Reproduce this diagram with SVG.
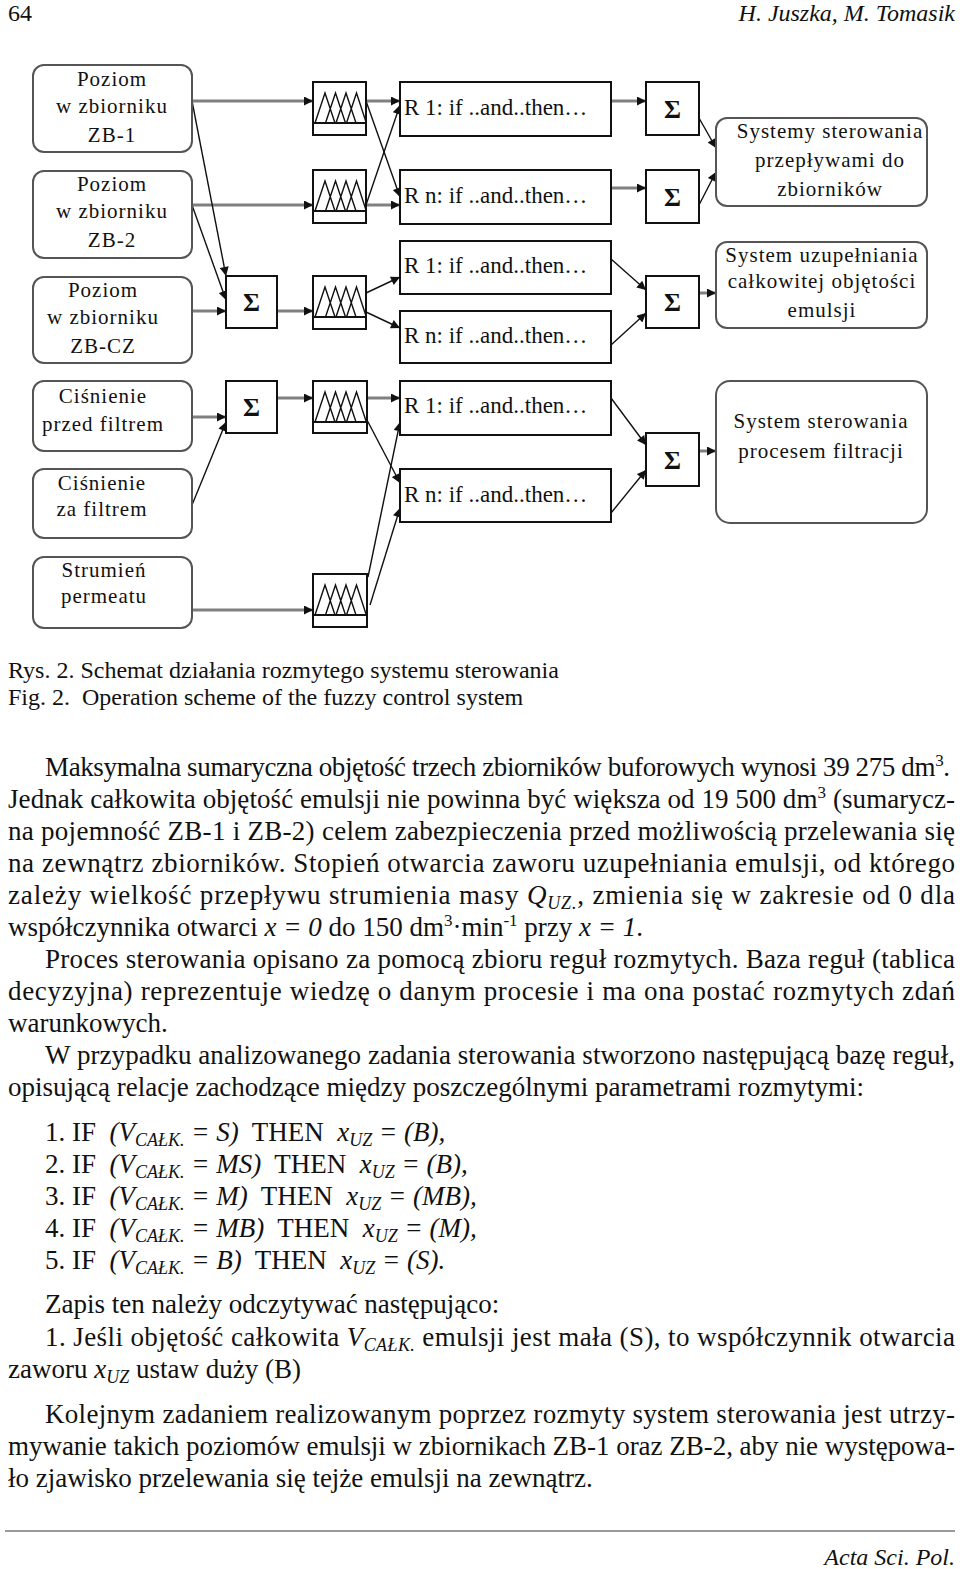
<svg xmlns="http://www.w3.org/2000/svg" xmlns:xlink="http://www.w3.org/1999/xlink" width="960" height="1569" viewBox="0 0 960 1569">
<style>
.rn{fill:#fff;stroke:#555;stroke-width:2}
.bx{fill:#fff;stroke:#111;stroke-width:2}
.nt{font-family:"Liberation Serif",serif;font-size:21px;letter-spacing:1px;text-anchor:middle;fill:#111}
.rt{font-family:"Liberation Serif",serif;font-size:23px;fill:#111}
.sg{font-family:"Liberation Serif",serif;font-size:26px;font-weight:bold;text-anchor:middle;fill:#111}
.thk{stroke:#808080;stroke-width:3;fill:none;marker-end:url(#ah)}
.thn{stroke:#111;stroke-width:1.4;fill:none;marker-end:url(#ah)}
.tri{fill:none;stroke:#111;stroke-width:1.4}
.bd{font-family:"Liberation Serif",serif;font-size:27px;fill:#111}
.cap{font-family:"Liberation Serif",serif;font-size:24px;fill:#111}
.i{font-style:italic}
.sb{font-size:18px}
.sp{font-size:17px}
</style>
<defs>
<marker id="ah" viewBox="0 0 10 10" refX="10" refY="5" markerWidth="11" markerHeight="9" markerUnits="userSpaceOnUse" orient="auto">
<path d="M0,0 L10,5 L0,10 z" fill="#111"/>
</marker>
<g id="tri">
<path class="tri" d="M2,41 L12,11 L22,41 M12.5,41 L22.5,11 L32.5,41 M23,41 L33,11 L43,41 M33.5,41 L43.5,11 L53,40"/>
<line x1="0" y1="41" x2="53" y2="41" stroke="#111" stroke-width="2"/>
</g>
</defs>
<rect width="960" height="1569" fill="#fff"/>

<!-- header -->
<text class="cap" x="8" y="21" font-size="25">64</text>
<text class="cap i" x="955" y="21" text-anchor="end" font-size="25">H. Juszka, M. Tomasik</text>

<!-- connectors -->
<g id="connectors">
<path class="thk" d="M192,101 H313"/>
<path class="thk" d="M192,205 H313"/>
<path class="thk" d="M192,311 H226"/>
<path class="thk" d="M277,311 H313"/>
<path class="thk" d="M366,101 H400"/>
<path class="thk" d="M366,205 H400"/>
<path class="thk" d="M611,101 H646"/>
<path class="thk" d="M611,188 H646"/>
<path class="thk" d="M699,293 H716"/>
<path class="thk" d="M192,417 H226"/>
<path class="thk" d="M277,398 H313"/>
<path class="thk" d="M192,610 H313"/>
<path class="thk" d="M367,398 H400"/>
<path class="thk" d="M699,451 H716"/>
<path class="thn" d="M192,101 L226,276"/>
<path class="thn" d="M192,205 L226,300"/>
<path class="thn" d="M366,101 L400,197"/>
<path class="thn" d="M366,205 L400,105"/>
<path class="thn" d="M366,293 L400,277"/>
<path class="thn" d="M366,312 L400,328"/>
<path class="thn" d="M611,259 L646,290"/>
<path class="thn" d="M611,345 L646,313"/>
<path class="thn" d="M699,118 L716,148"/>
<path class="thn" d="M699,205 L716,172"/>
<path class="thn" d="M192,505 L226,422"/>
<path class="thn" d="M367,420 L400,483"/>
<path class="thn" d="M368,577 L400,422"/>
<path class="thn" d="M370,605 L400,508"/>
<path class="thn" d="M611,398 L646,445"/>
<path class="thn" d="M611,513 L646,470"/>
</g>

<!-- input nodes -->
<g id="in-zb1"><rect class="rn" x="33" y="65" width="159" height="87" rx="11"/>
<text class="nt" x="112" y="86">Poziom</text><text class="nt" x="112" y="113">w zbiorniku</text><text class="nt" x="112" y="142">ZB-1</text></g>
<g id="in-zb2"><rect class="rn" x="33" y="171" width="159" height="87" rx="11"/>
<text class="nt" x="112" y="191">Poziom</text><text class="nt" x="112" y="218">w zbiorniku</text><text class="nt" x="112" y="247">ZB-2</text></g>
<g id="in-zbcz"><rect class="rn" x="33" y="277" width="159" height="86" rx="11"/>
<text class="nt" x="103" y="297">Poziom</text><text class="nt" x="103" y="324">w zbiorniku</text><text class="nt" x="103" y="353">ZB-CZ</text></g>
<g id="in-przed"><rect class="rn" x="33" y="381" width="159" height="70" rx="11"/>
<text class="nt" x="103" y="403">Ciśnienie</text><text class="nt" x="103" y="431">przed filtrem</text></g>
<g id="in-za"><rect class="rn" x="33" y="469" width="159" height="69" rx="11"/>
<text class="nt" x="102" y="490">Ciśnienie</text><text class="nt" x="102" y="516">za filtrem</text></g>
<g id="in-perm"><rect class="rn" x="33" y="557" width="159" height="71" rx="11"/>
<text class="nt" x="104" y="577">Strumień</text><text class="nt" x="104" y="603">permeatu</text></g>

<!-- left sum nodes -->
<g id="sum1"><rect class="bx" x="226" y="276" width="51" height="52"/><text class="sg" x="251.5" y="311">Σ</text></g>
<g id="sum2"><rect class="bx" x="226" y="381" width="51" height="52"/><text class="sg" x="251.5" y="416">Σ</text></g>

<!-- fuzzification nodes -->
<g id="fuzz1"><rect class="bx" x="313" y="82" width="53" height="53"/><use xlink:href="#tri" x="313" y="82"/></g>
<g id="fuzz2"><rect class="bx" x="313" y="170" width="53" height="53"/><use xlink:href="#tri" x="313" y="170"/></g>
<g id="fuzz3"><rect class="bx" x="313" y="276" width="53" height="53"/><use xlink:href="#tri" x="313" y="276"/></g>
<g id="fuzz4"><rect class="bx" x="313" y="381" width="54" height="52"/><use xlink:href="#tri" x="313" y="381"/></g>
<g id="fuzz5"><rect class="bx" x="313" y="574" width="54" height="53"/><use xlink:href="#tri" x="313" y="574"/></g>

<!-- rule nodes -->
<g id="rule1a"><rect class="bx" x="400" y="82" width="211" height="54"/><text class="rt" x="404" y="115">R 1: if ..and..then…</text></g>
<g id="rulena"><rect class="bx" x="400" y="170" width="211" height="54"/><text class="rt" x="404" y="203">R n: if ..and..then…</text></g>
<g id="rule1b"><rect class="bx" x="400" y="241" width="211" height="53"/><text class="rt" x="404" y="273">R 1: if ..and..then…</text></g>
<g id="rulenb"><rect class="bx" x="400" y="311" width="211" height="52"/><text class="rt" x="404" y="343">R n: if ..and..then…</text></g>
<g id="rule1c"><rect class="bx" x="400" y="381" width="211" height="54"/><text class="rt" x="404" y="413">R 1: if ..and..then…</text></g>
<g id="rulenc"><rect class="bx" x="400" y="469" width="211" height="53"/><text class="rt" x="404" y="502">R n: if ..and..then…</text></g>

<!-- right sum nodes -->
<g id="sumA"><rect class="bx" x="646" y="82" width="53" height="53"/><text class="sg" x="672.5" y="118">Σ</text></g>
<g id="sumB"><rect class="bx" x="646" y="170" width="53" height="53"/><text class="sg" x="672.5" y="206">Σ</text></g>
<g id="sumC"><rect class="bx" x="646" y="276" width="53" height="52"/><text class="sg" x="672.5" y="311">Σ</text></g>
<g id="sumD"><rect class="bx" x="646" y="433" width="53" height="53"/><text class="sg" x="672.5" y="469">Σ</text></g>

<!-- output nodes -->
<g id="out1"><rect class="rn" x="716" y="118" width="211" height="88" rx="11"/>
<text class="nt" x="830" y="138">Systemy sterowania</text><text class="nt" x="830" y="167">przepływami do</text><text class="nt" x="830" y="196">zbiorników</text></g>
<g id="out2"><rect class="rn" x="716" y="242" width="211" height="86" rx="11"/>
<text class="nt" x="822" y="262">System uzupełniania</text><text class="nt" x="822" y="288">całkowitej objętości</text><text class="nt" x="822" y="317">emulsji</text></g>
<g id="out3"><rect class="rn" x="716" y="381" width="211" height="142" rx="14"/>
<text class="nt" x="821" y="428">System sterowania</text><text class="nt" x="821" y="458">procesem filtracji</text></g>

<!-- caption -->
<text class="cap" x="8" y="678">Rys. 2. Schemat działania rozmytego systemu sterowania</text>
<text class="cap" x="8" y="705" xml:space="preserve">Fig. 2.  Operation scheme of the fuzzy control system</text>

<!-- body text -->
<text class="bd" x="45" y="776" textLength="905" lengthAdjust="spacing">Maksymalna sumaryczna objętość trzech zbiorników buforowych wynosi 39 275  dm<tspan class="sp" dy="-10">3</tspan><tspan dy="10">.</tspan></text>
<text class="bd" x="8" y="808" textLength="947" lengthAdjust="spacing">Jednak całkowita objętość emulsji nie powinna być większa od 19 500 dm<tspan class="sp" dy="-10">3</tspan><tspan dy="10"> (sumarycz-</tspan></text>
<text class="bd" x="8" y="840" textLength="947" lengthAdjust="spacing">na pojemność ZB-1 i ZB-2) celem zabezpieczenia przed możliwością przelewania się</text>
<text class="bd" x="8" y="872" textLength="947" lengthAdjust="spacing">na zewnątrz zbiorników. Stopień otwarcia zaworu uzupełniania emulsji, od którego</text>
<text class="bd" x="8" y="904" textLength="947" lengthAdjust="spacing">zależy wielkość przepływu strumienia masy <tspan class="i">Q</tspan><tspan class="i sb" dy="5">UZ.</tspan><tspan dy="-5">, zmienia się w zakresie od 0 dla</tspan></text>
<text class="bd" x="8" y="936">współczynnika otwarci <tspan class="i">x = 0</tspan> do 150 dm<tspan class="sp" dy="-10">3</tspan><tspan dy="10">·min</tspan><tspan class="sp" dy="-10">-1</tspan><tspan dy="10"> przy </tspan><tspan class="i">x = 1</tspan>.</text>
<text class="bd" x="45" y="968" textLength="910" lengthAdjust="spacing">Proces sterowania opisano za pomocą zbioru reguł rozmytych. Baza reguł (tablica</text>
<text class="bd" x="8" y="1000" textLength="947" lengthAdjust="spacing">decyzyjna) reprezentuje wiedzę o danym procesie i ma ona postać rozmytych zdań</text>
<text class="bd" x="8" y="1032">warunkowych.</text>
<text class="bd" x="45" y="1064" textLength="910" lengthAdjust="spacing">W przypadku analizowanego zadania sterowania stworzono następującą bazę reguł,</text>
<text class="bd" x="8" y="1096">opisującą relacje zachodzące między poszczególnymi parametrami rozmytymi:</text>

<text class="bd" x="45" y="1141" xml:space="preserve">1. IF  <tspan class="i">(V</tspan><tspan class="i sb" dy="5">CAŁK.</tspan><tspan class="i" dy="-5"> = S)</tspan>  THEN  <tspan class="i">x</tspan><tspan class="i sb" dy="5">UZ</tspan><tspan class="i" dy="-5"> = (B),</tspan></text>
<text class="bd" x="45" y="1173" xml:space="preserve">2. IF  <tspan class="i">(V</tspan><tspan class="i sb" dy="5">CAŁK.</tspan><tspan class="i" dy="-5"> = MS)</tspan>  THEN  <tspan class="i">x</tspan><tspan class="i sb" dy="5">UZ</tspan><tspan class="i" dy="-5"> = (B),</tspan></text>
<text class="bd" x="45" y="1205" xml:space="preserve">3. IF  <tspan class="i">(V</tspan><tspan class="i sb" dy="5">CAŁK.</tspan><tspan class="i" dy="-5"> = M)</tspan>  THEN  <tspan class="i">x</tspan><tspan class="i sb" dy="5">UZ</tspan><tspan class="i" dy="-5"> = (MB),</tspan></text>
<text class="bd" x="45" y="1237" xml:space="preserve">4. IF  <tspan class="i">(V</tspan><tspan class="i sb" dy="5">CAŁK.</tspan><tspan class="i" dy="-5"> = MB)</tspan>  THEN  <tspan class="i">x</tspan><tspan class="i sb" dy="5">UZ</tspan><tspan class="i" dy="-5"> = (M),</tspan></text>
<text class="bd" x="45" y="1269" xml:space="preserve">5. IF  <tspan class="i">(V</tspan><tspan class="i sb" dy="5">CAŁK.</tspan><tspan class="i" dy="-5"> = B)</tspan>  THEN  <tspan class="i">x</tspan><tspan class="i sb" dy="5">UZ</tspan><tspan class="i" dy="-5"> = (S).</tspan></text>

<text class="bd" x="45" y="1313">Zapis ten należy odczytywać następująco:</text>
<text class="bd" x="45" y="1346" textLength="910" lengthAdjust="spacing">1. Jeśli objętość całkowita <tspan class="i">V</tspan><tspan class="i sb" dy="5">CAŁK.</tspan><tspan dy="-5"> emulsji jest mała (S), to współczynnik otwarcia</tspan></text>
<text class="bd" x="8" y="1378">zaworu <tspan class="i">x</tspan><tspan class="i sb" dy="5">UZ</tspan><tspan dy="-5"> ustaw duży (B)</tspan></text>

<text class="bd" x="45" y="1423" textLength="910" lengthAdjust="spacing">Kolejnym zadaniem realizowanym poprzez rozmyty system sterowania jest utrzy-</text>
<text class="bd" x="8" y="1455" textLength="947" lengthAdjust="spacing">mywanie takich poziomów emulsji w zbiornikach ZB-1 oraz ZB-2, aby nie występowa-</text>
<text class="bd" x="8" y="1487">ło zjawisko przelewania się tejże emulsji na zewnątrz.</text>

<!-- footer -->
<line x1="5" y1="1531" x2="955" y2="1531" stroke="#999" stroke-width="2"/>
<text class="cap i" x="955" y="1565" text-anchor="end">Acta Sci. Pol.</text>
</svg>
